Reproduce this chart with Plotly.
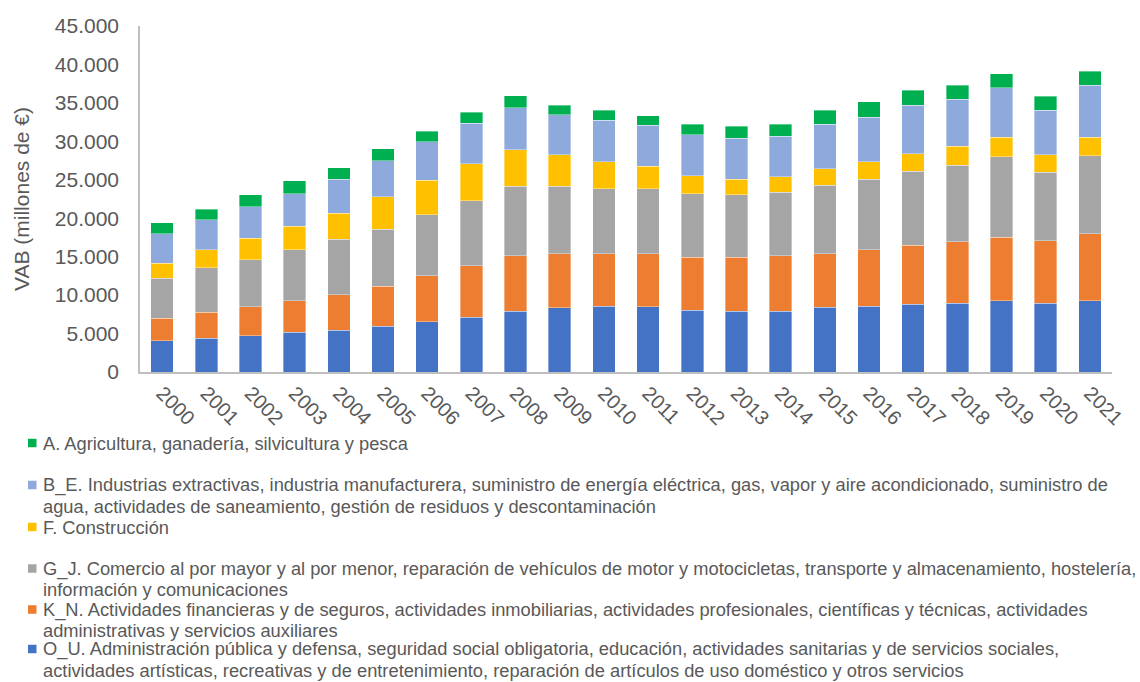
import plotly.graph_objects as go

years = [str(y) for y in range(2000, 2022)]

# VAB by sector (millones de €)
o_u = [4060, 4370, 4720, 5150, 5450, 5930, 6540, 7140, 7920, 8350, 8530,
       8480, 8050, 7920, 7920, 8400, 8530, 8830, 8960, 9260, 8960, 9260]
k_n = [2950, 3380, 3760, 4110, 4590, 5200, 5960, 6710, 7180, 7060, 6880,
       6930, 6890, 7020, 7180, 7010, 7350, 7660, 8010, 8270, 8140, 8750]
g_j = [5190, 5800, 6150, 6640, 7230, 7440, 7930, 8450, 9060, 8750, 8400,
       8400, 8260, 8090, 8280, 8880, 9180, 9610, 9910, 10440, 8870, 10090]
f_c = [1960, 2350, 2770, 3060, 3380, 4200, 4510, 4760, 4760, 4110, 3550,
       2940, 2300, 2030, 1990, 2160, 2300, 2300, 2470, 2590, 2300, 2460]
b_e = [3840, 3930, 4100, 4240, 4410, 4720, 5020, 5320, 5450, 5190, 5370,
       5330, 5370, 5370, 5320, 5800, 5800, 6280, 6100, 6410, 5800, 6710]
a_g = [1400, 1370, 1570, 1700, 1520, 1560, 1380, 1390, 1560, 1220, 1340,
       1250, 1380, 1520, 1560, 1820, 1990, 1990, 1820, 1820, 1820, 1860]

# legend texts (one list entry per printed line)
labels = [
    ["O_U. Administración pública y defensa, seguridad social obligatoria, educación, actividades sanitarias y de servicios sociales,",
     "actividades artísticas, recreativas y de entretenimiento, reparación de artículos de uso doméstico y otros servicios"],
    ["K_N. Actividades financieras y de seguros, actividades inmobiliarias, actividades profesionales, científicas y técnicas, actividades",
     "administrativas y servicios auxiliares"],
    ["G_J. Comercio al por mayor y al por menor, reparación de vehículos de motor y motocicletas, transporte y almacenamiento, hostelería,",
     "información y comunicaciones"],
    ["F. Construcción"],
    ["B_E. Industrias extractivas, industria manufacturera, suministro de energía eléctrica, gas, vapor y aire acondicionado, suministro de",
     "agua, actividades de saneamiento, gestión de residuos y descontaminación"],
    ["A. Agricultura, ganadería, silvicultura y pesca"],
]
series = [o_u, k_n, g_j, f_c, b_e, a_g]
colors = ["#4472C4", "#ED7D31", "#A5A5A5", "#FFC000", "#8EA9DB", "#00B050"]

W, H = 1140, 682
ML, MR, MT, MB = 140, 28, 26, 310
PW, PH = W - ML - MR, H - MT - MB
txt = "#595959"

fig = go.Figure()
for lab, vals, col in zip(labels, series, colors):
    fig.add_trace(go.Bar(x=years, y=vals, name=" ".join(lab), showlegend=False,
                         marker=dict(color=col, line=dict(color="rgba(255,255,255,0.6)", width=0.6))))

# manual legend (order: top of stack first), positions in pixels
def px_x(x):
    return (x - ML) / PW

def px_y(y):
    return (MT + PH - y) / PH

entry_y = [443, 485, 527, 568.5, 609.5, 649]
line_dy = 21.2
annotations = []
shapes = []
for i, idx in enumerate(range(len(labels) - 1, -1, -1)):
    y0 = entry_y[i]
    shapes.append(dict(type="rect", xref="paper", yref="paper",
                       x0=px_x(28), x1=px_x(36.5), y0=px_y(y0 - 4.25), y1=px_y(y0 + 4.25),
                       fillcolor=colors[idx], line=dict(width=0)))
    for j, line in enumerate(labels[idx]):
        annotations.append(dict(text=line, xref="paper", yref="paper",
                                x=px_x(41), y=px_y(y0 + j * line_dy),
                                xanchor="left", yanchor="middle", showarrow=False,
                                font=dict(size=18.3, color=txt)))

fig.update_layout(
    barmode="stack",
    bargap=0.49,
    width=W, height=H,
    margin=dict(l=ML, r=MR, t=MT, b=MB, autoexpand=False),
    paper_bgcolor="white", plot_bgcolor="white",
    separators=",.",
    showlegend=False,
    font=dict(family="Liberation Sans, Arial, sans-serif", color=txt, size=18),
    xaxis=dict(type="category", tickangle=45, showline=True, linecolor="#BFBFBF",
               linewidth=1.5, ticks="", tickfont=dict(size=20, color=txt), automargin=False),
    yaxis=dict(range=[0, 45000], dtick=5000, tickformat=",d", showgrid=False,
               showline=True, linecolor="#BFBFBF", linewidth=1.5, ticks="",
               ticklabelstandoff=15, tickfont=dict(size=21, color=txt), automargin=False,
               title=dict(text="VAB (millones de €)", font=dict(size=21, color=txt), standoff=19)),
    annotations=annotations,
    shapes=shapes,
)

fig.write_html("out.html", config={"displayModeBar": False},
               post_script="document.body.style.margin='0';")
